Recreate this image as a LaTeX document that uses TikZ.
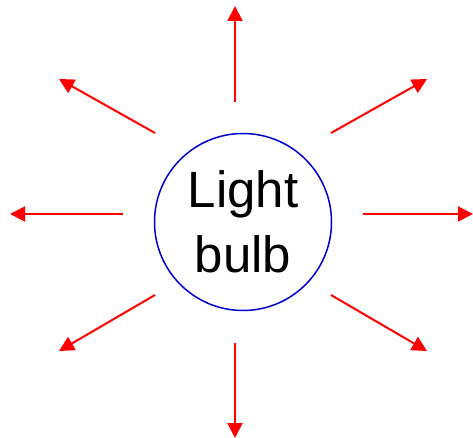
\documentclass[tikz,border=0pt]{standalone}
\usepackage{fontspec}
\setmainfont{Liberation Sans}
\usetikzlibrary{arrows.meta}
\begin{document}
\begin{tikzpicture}[x=1pt,y=-1pt,
  ray/.style={draw=red,line width=2pt,-{Triangle[length=15pt,width=15pt]}},
  bulb/.style={circle,draw={rgb,255:red,0;green,0;blue,204},line width=1.5pt,minimum size=177pt,inner sep=0pt,align=center,font=\fontsize{51}{65}\selectfont}]
\useasboundingbox (0,0) rectangle (473,438);
\node[bulb] (b) at (243,222) {Light\\bulb};
\coordinate (ns) at (235,102); \coordinate (ne) at (235,6);
\coordinate (ss) at (235,343); \coordinate (se) at (235,438);
\coordinate (ws) at (123,214); \coordinate (we) at (10,214);
\coordinate (es) at (363,214); \coordinate (ee) at (473,214);
\coordinate (nws) at (155,133); \coordinate (nwe) at (59,79);
\coordinate (nes) at (331,133); \coordinate (nee) at (427,79);
\coordinate (sws) at (155,295); \coordinate (swe) at (59,351);
\coordinate (ses) at (331,295); \coordinate (see) at (427,351);
\draw[ray] (ns) -- (ne);
\draw[ray] (ss) -- (se);
\draw[ray] (ws) -- (we);
\draw[ray] (es) -- (ee);
\draw[ray] (nws) -- (nwe);
\draw[ray] (nes) -- (nee);
\draw[ray] (sws) -- (swe);
\draw[ray] (ses) -- (see);
\end{tikzpicture}
\end{document}
